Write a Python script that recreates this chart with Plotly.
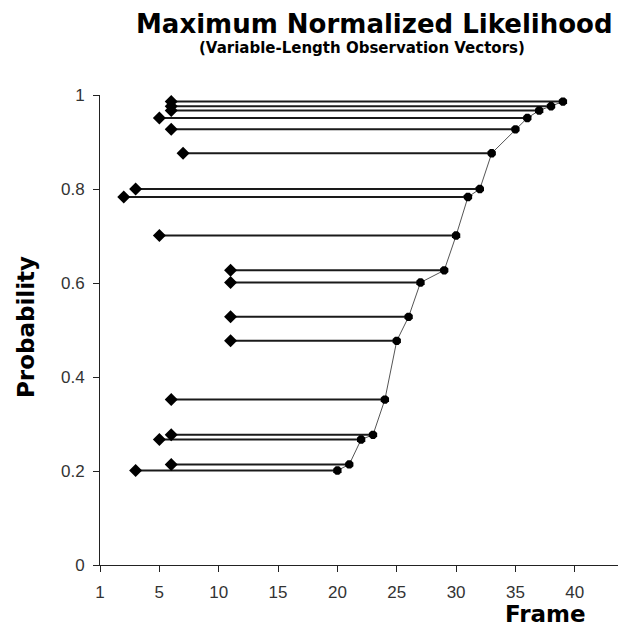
import plotly.graph_objects as go

# Data (sorted by probability)
probability = [0.201, 0.214, 0.267, 0.277, 0.352, 0.477, 0.528, 0.601, 0.627,
               0.701, 0.783, 0.800, 0.876, 0.927, 0.951, 0.967, 0.976, 0.986]
start_frame = [3, 6, 5, 6, 6, 11, 11, 11, 11, 5, 2, 3, 7, 6, 5, 6, 6, 6]
end_frame = [20, 21, 22, 23, 24, 25, 26, 27, 29, 30, 31, 32, 33, 35, 36, 37, 38, 39]

x_tickvals = [0, 5, 10, 15, 20, 25, 30, 35, 40]
x_ticktext = ["1", "5", "10", "15", "20", "25", "30", "35", "40"]
y_tickvals = [0, 0.2, 0.4, 0.6, 0.8, 1]
y_ticktext = ["0", "0.2", "0.4", "0.6", "0.8", "1"]

W, H = 618, 633
ML, MR, MT, MB = 100, 0, 95, 68

seg_x, seg_y = [], []
for s, e, p in zip(start_frame, end_frame, probability):
    seg_x += [s, e, None]
    seg_y += [p, p, None]

fig = go.Figure()
fig.add_trace(go.Scatter(x=seg_x, y=seg_y, mode="lines",
                         line=dict(color="#1a1a1a", width=2),
                         hoverinfo="skip", showlegend=False, cliponaxis=False))
fig.add_trace(go.Scatter(x=end_frame, y=probability, mode="lines+markers",
                         line=dict(color="#555555", width=1),
                         marker=dict(symbol="octagon", size=9, color="black"),
                         showlegend=False, cliponaxis=False))
fig.add_trace(go.Scatter(x=start_frame, y=probability, mode="markers",
                         marker=dict(symbol="diamond", size=10, color="black"),
                         showlegend=False, cliponaxis=False))

tfont = "DejaVu Sans, Verdana, sans-serif"
kfont = "Liberation Sans, Arial, sans-serif"
axis_common = dict(showgrid=False, zeroline=False, showline=True, linecolor="#222222",
                   linewidth=1, ticks="outside", ticklen=6, tickcolor="#222222",
                   tickfont=dict(size=17, color="#333333", family=kfont))
fig.update_layout(
    width=W, height=H,
    margin=dict(l=ML, r=MR, t=MT, b=MB),
    paper_bgcolor="white", plot_bgcolor="white",
    font=dict(family=kfont, size=17, color="#333333"),
    xaxis=dict(range=[0, (W - ML - MR) / 11.87], tickvals=x_tickvals, ticktext=x_ticktext,
               ticklabelstandoff=6, **axis_common),
    yaxis=dict(range=[0, 1], tickvals=y_tickvals, ticktext=y_ticktext,
               ticklabelstandoff=5, **axis_common),
)

# annotations placed by pixel position (centre of text)
labels = [
    ("<b>Maximum Normalized Likelihood</b>", 374, 24, 26, 0),
    ("<b>(Variable-Length Observation Vectors)</b>", 362, 48, 15, 0),
    ("<b>Probability</b>", 26, 327, 23, -90),
    ("<b>Frame</b>", 545, 614, 23, 0),
]
pw = W - ML - MR
ph = H - MT - MB
for text, px, py, size, ang in labels:
    fig.add_annotation(text=text, x=(px - ML) / pw, y=(H - MB - py) / ph,
                       xref="paper", yref="paper", showarrow=False,
                       xanchor="center", yanchor="middle", textangle=ang,
                       font=dict(size=size, color="black", family=tfont))

fig.write_html("out.html",
               config={"displayModeBar": False},
               post_script="document.body.style.margin='0';document.body.style.overflow='hidden';")
